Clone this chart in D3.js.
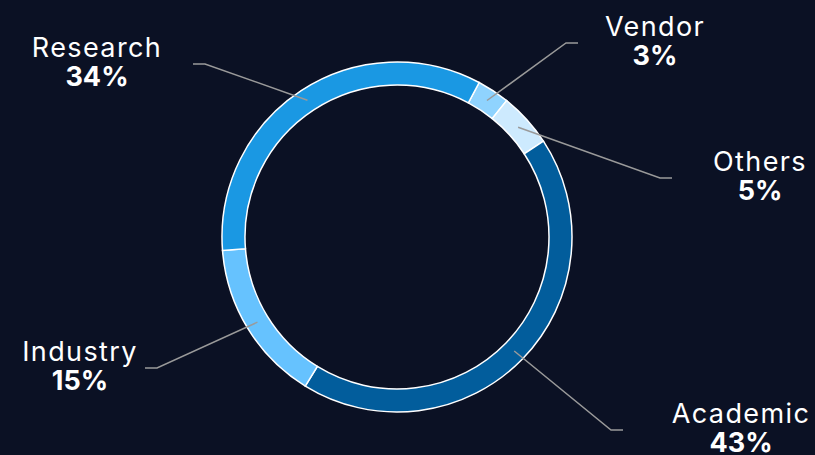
<!DOCTYPE html>
<html>
<head>
<meta charset="utf-8">
<title>Donut</title>
<script src="https://d3js.org/d3.v7.min.js"></script>
<style>
  html, body { margin: 0; padding: 0; background: #0b1124; }
  svg { display: block; }
</style>
</head>
<body>
<svg width="815" height="455"></svg>
<script>
    const width = 815;
    const height = 455;

    // data, clockwise from the first slice
    const categories = ["Vendor", "Others", "Academic", "Industry", "Research"];
    const shares = [3, 5, 43, 15, 34];
    const sliceColors = ["#8fd3fe", "#cdeafe", "#025d9c", "#66c2fe", "#1a98e3"];

    // hand-placed label elbows, relative to the centre
    const labelLayout = {
        Vendor:   { elbow: [169, -194], textX: 258 },
        Others:   { elbow: [263, -59],  textX: 363 },
        Academic: { elbow: [214, 193],  textX: 344 },
        Industry: { elbow: [-240, 131], textX: -317 },
        Research: { elbow: [-192, -173], textX: -300 }
    };

    const cx = 397, cy = 237;
    const outerR = 175, innerR = 152;
    const start = 28 * Math.PI / 180;

    const svg = d3.select("svg");
    svg.append("rect").attr("width", width).attr("height", height).attr("fill", "#0b1124");

    const g = svg.append("g").attr("transform", `translate(${cx},${cy})`);

    const data = categories.map((c, i) => ({ name: c, value: shares[i], color: sliceColors[i] }));

    const pie = d3.pie()
        .sort(null)
        .value(d => d.value)
        .startAngle(start)
        .endAngle(start + 2 * Math.PI);

    const arc = d3.arc().innerRadius(innerR).outerRadius(outerR);
    const arcs = pie(data);

    g.selectAll("path.slice")
        .data(arcs)
        .join("path")
        .attr("class", "slice")
        .attr("d", arc)
        .attr("fill", d => d.data.color)
        .attr("stroke", "#ffffff")
        .attr("stroke-width", 1.5);

    // leader lines
    g.selectAll("polyline")
        .data(arcs)
        .join("polyline")
        .attr("fill", "none")
        .attr("stroke", "#9a9a9a")
        .attr("stroke-width", 1.5)
        .attr("points", d => {
            const p0 = arc.centroid(d);
            const lay = labelLayout[d.data.name];
            const side = lay.textX > 0 ? 1 : -1;
            const p1 = lay.elbow;
            const p2 = [p1[0] + side * 12, p1[1]];
            return [p0, p1, p2].map(p => p.join(",")).join(" ");
        });

    const labels = g.selectAll("g.label")
        .data(arcs)
        .join("g")
        .attr("class", "label")
        .attr("transform", d => {
            const lay = labelLayout[d.data.name];
            return `translate(${lay.textX},${lay.elbow[1]})`;
        });

    labels.append("text")
        .attr("y", -7.5)
        .attr("text-anchor", "middle")
        .attr("fill", "#ffffff")
        .style("font-family", "Inter, 'Noto Sans', sans-serif")
        .style("font-size", "27px")
        .style("letter-spacing", "1.4px")
        .style("font-weight", 400)
        .text(d => d.data.name);

    labels.append("text")
        .attr("y", 22)
        .attr("text-anchor", "middle")
        .attr("fill", "#ffffff")
        .style("font-family", "Inter, 'Noto Sans', sans-serif")
        .style("font-size", "27px")
        .style("font-weight", 700)
        .text(d => d.data.value + "%");
</script>
</body>
</html>
